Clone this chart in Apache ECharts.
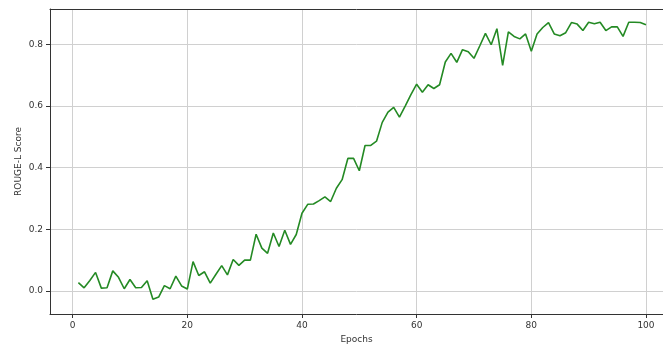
<!DOCTYPE html>
<html>
<head>
<meta charset="utf-8">
<script src="https://cdn.jsdelivr.net/npm/echarts@6/dist/echarts.min.js"></script>
<style>
  html, body { margin: 0; padding: 0; background: #ffffff; }
  #chart { width: 663px; height: 349px; }
</style>
</head>
<body>
<div id="chart"></div>
<script>
// Training curve: ROUGE-L score per epoch
const epochs = Array.from({ length: 100 }, (_, i) => i + 1);
const rougeL = [
  0.027, 0.010, 0.034, 0.060, 0.009, 0.010, 0.065, 0.044, 0.007, 0.037,
  0.010, 0.011, 0.033, -0.027, -0.020, 0.017, 0.007, 0.048, 0.016, 0.006,
  0.095, 0.050, 0.062, 0.025, 0.054, 0.082, 0.052, 0.102, 0.083, 0.100,
  0.100, 0.184, 0.139, 0.122, 0.188, 0.144, 0.197, 0.151, 0.183, 0.252,
  0.281, 0.282, 0.293, 0.305, 0.290, 0.333, 0.361, 0.430, 0.430, 0.390,
  0.472, 0.472, 0.486, 0.547, 0.580, 0.596, 0.564, 0.600, 0.637, 0.671,
  0.645, 0.669, 0.657, 0.669, 0.743, 0.771, 0.742, 0.783, 0.776, 0.755,
  0.795, 0.836, 0.799, 0.851, 0.732, 0.841, 0.826, 0.818, 0.834, 0.778,
  0.834, 0.855, 0.871, 0.834, 0.828, 0.838, 0.871, 0.866, 0.845, 0.872,
  0.867, 0.872, 0.845, 0.857, 0.857, 0.826, 0.872, 0.872, 0.871, 0.864
];
const xTicks = [0, 20, 40, 60, 80, 100];
const yTicks = [0, 0.2, 0.4, 0.6, 0.8];

// x range runs past the right edge of the canvas, so the right spine is cut off
const X_MIN = -3.95, X_MAX = 102.97;
const Y_MIN = -0.075, Y_MAX = 0.915;

const FONT = 'DejaVu Sans';
const INK = '#333333';
const gridLine = { show: true, lineStyle: { color: '#d0d0d0', width: 1 } };

const chart = echarts.init(document.getElementById('chart'), null, { renderer: 'canvas' });
chart.setOption({
  animation: false,
  backgroundColor: '#ffffff',
  grid: { left: 50, top: 9, right: 0, bottom: 29, containLabel: false },
  xAxis: [{
    type: 'value',
    min: X_MIN, max: X_MAX,
    name: 'Epochs', nameLocation: 'middle', nameGap: 21,
    nameTextStyle: { fontFamily: FONT, fontSize: 9, color: INK },
    axisLine: { show: true, onZero: false, lineStyle: { color: INK, width: 1 } },
    axisTick: { show: true, length: 4, customValues: xTicks, lineStyle: { color: INK } },
    axisLabel: { customValues: xTicks, margin: 7, fontFamily: FONT, fontSize: 9, color: INK },
    splitLine: gridLine
  }, {
    // top spine only
    type: 'value', position: 'top',
    min: X_MIN, max: X_MAX,
    axisLine: { show: true, onZero: false, lineStyle: { color: INK, width: 1 } },
    axisTick: { show: false }, axisLabel: { show: false }, splitLine: { show: false }
  }],
  yAxis: {
    type: 'value',
    min: Y_MIN, max: Y_MAX,
    name: 'ROUGE-L Score', nameLocation: 'middle', nameGap: 27,
    nameMoveOverlap: false,
    nameTextStyle: { fontFamily: FONT, fontSize: 9, color: INK },
    axisLine: { show: true, onZero: false, lineStyle: { color: INK, width: 1 } },
    axisTick: { show: true, length: 4, customValues: yTicks, lineStyle: { color: INK } },
    axisLabel: {
      customValues: yTicks, margin: 7,
      fontFamily: FONT, fontSize: 9, color: INK,
      formatter: v => v.toFixed(1)
    },
    splitLine: gridLine
  },
  series: [{
    type: 'line',
    xAxisIndex: 0,
    data: epochs.map((e, i) => [e, rougeL[i]]),
    showSymbol: false,
    lineStyle: { color: '#248a24', width: 1.6 },
    z: 3
  }]
});
</script>
</body>
</html>
